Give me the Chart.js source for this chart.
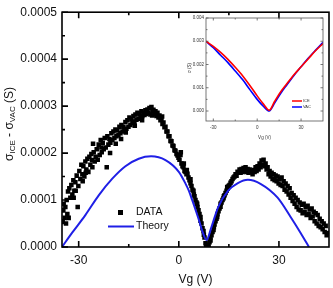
<!DOCTYPE html>
<html>
<head>
<meta charset="utf-8">
<script src="https://cdn.jsdelivr.net/npm/chart.js@4.4.1/dist/chart.umd.min.js"></script>
<style>
  html, body { margin: 0; padding: 0; background: #fff; }
  #wrap { position: relative; width: 333px; height: 288px; }
  #main { position: absolute; left: 0; top: 0; }
  #inset { position: absolute; left: 186px; top: 8px; }
</style>
</head>
<body>
<div id="wrap">
  <canvas id="main" width="333" height="288"></canvas>
  <canvas id="inset" width="142" height="134"></canvas>
</div>
<script>
"use strict";

// main plot: sigma_ICE - sigma_VAC, in units of 1e-4 S
var xTicks = [-30, 0, 30];
var xMinor = [-15, 15];
var yTicks = [0, 1, 2, 3, 4, 5];
var yMinor = [0.5, 1.5, 2.5, 3.5, 4.5];

var dataVg = [
  -34.8, -34.6, -34.5, -34.2, -34.0, -33.8, -33.6, -33.4, -33.2, -33.0,
  -32.8, -32.5, -32.2, -31.9, -31.6, -31.3, -31.0, -30.6, -30.3, -30.1,
  -29.8, -29.5, -29.2, -28.9, -28.6, -28.3, -28.0, -27.7, -27.4, -27.1,
  -26.8, -26.5, -26.2, -25.9, -25.7, -25.5, -25.2, -24.9, -24.6, -24.3,
  -24.0, -23.7, -23.4, -23.1, -22.8, -22.5, -22.2, -21.9, -21.6, -21.4,
  -21.1, -20.8, -20.5, -20.2, -19.9, -19.6, -19.3, -19.0, -18.7, -18.4,
  -18.1, -17.8, -17.5, -17.2, -16.9, -16.6, -16.3, -16.0, -15.7, -15.4,
  -15.1, -14.8, -14.5, -14.2, -13.9, -13.6, -13.3, -13.0, -12.7, -12.4,
  -12.1, -11.8, -11.5, -11.2, -10.9, -10.6, -10.3, -10.0, -9.7, -9.4,
  -9.1, -8.8, -8.5, -8.2, -7.9, -7.6, -7.3, -7.0, -6.7, -6.4,
  -6.1, -5.8, -5.5, -5.2, -4.9, -4.6, -4.3, -4.0, -3.7, -3.4,
  -3.1, -2.8, -2.5, -2.2, -1.9, -1.6, -1.3, -1.0, -0.7, -0.4,
  -0.1, 0.2, 0.5, 0.8, 1.1, 1.4, 1.7, 2.0, 2.3, 2.6,
  2.9, 3.2, 3.5, 3.8, 4.1, 4.4, 4.7, 5.0, 5.3, 5.6,
  5.9, 6.2, 6.5, 6.8, 7.1, 7.4, 7.7, 8.0, 8.3, 8.6,
  8.9, 9.2, 9.5, 9.8, 10.1, 10.4, 10.7, 11.0, 11.3, 11.6,
  11.9, 12.2, 12.5, 12.8, 13.1, 13.4, 13.7, 14.0, 14.3, 14.6,
  14.9, 15.2, 15.5, 15.8, 16.1, 16.4, 16.7, 17.0, 17.3, 17.6,
  17.9, 18.2, 18.5, 18.8, 19.1, 19.4, 19.7, 20.0, 20.3, 20.6,
  20.9, 21.2, 21.5, 21.8, 22.1, 22.4, 22.7, 23.0, 23.3, 23.6,
  23.9, 24.2, 24.5, 24.8, 25.1, 25.4, 25.7, 26.0, 26.3, 26.6,
  26.9, 27.2, 27.5, 27.8, 28.1, 28.4, 28.7, 29.0, 29.3, 29.6,
  29.9, 30.2, 30.5, 30.8, 31.1, 31.4, 31.7, 32.0, 32.3, 32.6,
  32.9, 33.2, 33.5, 33.8, 34.1, 34.4, 34.7, 35.0, 35.3, 35.6,
  35.9, 36.2, 36.5, 36.8, 37.1, 37.4, 37.7, 38.0, 38.3, 38.6,
  38.9, 39.2, 39.5, 39.8, 40.1, 40.4, 40.7, 41.0, 41.3, 41.6,
  41.9, 42.2, 42.5, 42.8, 43.1, 43.4, 43.7, 44.0, 44.3, 44.6,
  0.6, 1.5, 2.4, 3.5, 4.5, 5.5, 6.5, 7.5, 8.2, 8.8,
  9.5, 10.5, 11.5, 12.5, 13.5, 14.5, -20.6, -18.9, -17.3, -28.8,
  -31.5, -30.9, -27.9, -26.0, -23.2, -15.9, -13.2, -11.0, -8.0, -5.0
];
var dataSigma = [
  0.55, 0.78, 0.92, 0.62, 0.85, 0.50, 1.00, 0.70, 1.18, 0.62,
  1.25, 1.05, 1.32, 1.12, 1.42, 1.20, 1.38, 1.52, 0.85, 1.30,
  1.62, 1.45, 1.75, 1.55, 1.72, 1.50, 1.82, 1.65, 1.88, 1.60,
  1.92, 1.75, 1.98, 1.70, 2.20, 2.02, 1.82, 1.92, 2.08, 1.86,
  2.18, 1.96, 2.28, 2.02, 2.22, 2.08, 2.32, 2.12, 1.70, 2.36,
  2.18, 2.30, 2.22, 2.42, 2.28, 2.46, 2.32, 2.50, 2.36, 2.48,
  2.38, 2.56, 2.42, 2.60, 2.46, 2.56, 2.50, 2.66, 2.52, 2.70,
  2.56, 2.76, 2.60, 2.72, 2.64, 2.79, 2.67, 2.82, 2.71, 2.86,
  2.73, 2.84, 2.76, 2.89, 2.79, 2.86, 2.81, 2.91, 2.83, 2.93,
  2.86, 2.96, 2.82, 2.98, 2.89, 2.92, 2.82, 2.89, 2.79, 2.86,
  2.76, 2.80, 2.70, 2.72, 2.62, 2.65, 2.55, 2.56, 2.46, 2.46,
  2.36, 2.36, 2.26, 2.25, 2.16, 2.15, 2.06, 2.05, 1.98, 1.95,
  1.90, 1.86, 1.96, 1.78, 1.72, 1.70, 1.62, 1.60, 1.55, 1.56,
  1.48, 1.42, 1.44, 1.30, 1.22, 1.20, 1.08, 1.00, 0.95, 0.85,
  0.78, 0.70, 0.64, 0.50, 0.40, 0.34, 0.20, 0.08, 0.02, 0.02,
  0.05, 0.10, 0.14, 0.25, 0.32, 0.36, 0.48, 0.55, 0.60, 0.70,
  0.76, 0.82, 0.86, 0.95, 1.00, 1.04, 1.10, 1.15, 1.20, 1.24,
  1.30, 1.32, 1.37, 1.40, 1.45, 1.48, 1.50, 1.55, 1.52, 1.60,
  1.58, 1.65, 1.58, 1.66, 1.60, 1.68, 1.62, 1.70, 1.60, 1.66,
  1.58, 1.65, 1.60, 1.62, 1.55, 1.64, 1.60, 1.70, 1.62, 1.72,
  1.65, 1.78, 1.70, 1.84, 1.75, 1.86, 1.72, 1.78, 1.65, 1.70,
  1.55, 1.62, 1.50, 1.58, 1.45, 1.55, 1.42, 1.52, 1.40, 1.50,
  1.35, 1.45, 1.32, 1.48, 1.30, 1.40, 1.22, 1.35, 1.18, 1.30,
  1.12, 1.25, 1.05, 1.15, 0.98, 1.10, 0.92, 1.05, 0.85, 1.00,
  0.80, 0.95, 0.78, 0.90, 0.72, 0.92, 0.75, 0.85, 0.68, 0.88,
  0.70, 0.80, 0.62, 0.82, 0.65, 0.75, 0.55, 0.72, 0.50, 0.68,
  0.45, 0.60, 0.42, 0.55, 0.38, 0.50, 0.32, 0.45, 0.25, 0.30,
  2.02, 1.78, 1.64, 1.36, 1.12, 0.92, 0.56, 0.26, 0.00, 0.00,
  0.20, 0.42, 0.64, 0.92, 1.08, 1.28, 2.00, 2.20, 2.30, 1.40,
  1.05, 1.20, 1.58, 1.85, 2.12, 2.44, 2.58, 2.70, 2.80, 2.78
];

var theoryVg = [-35, -32, -28, -24, -20, -16, -12, -8.3, -4, 0, 2, 3, 4, 6, 7, 8.3,
  9.8, 11.8, 14.8, 17.7, 20.7, 24.6, 29.6, 33.5, 36.5, 39];
var theorySigma = [0, 0.3, 0.68, 1.1, 1.45, 1.72, 1.88, 1.93, 1.85, 1.6, 1.35, 1.2, 1.0, 0.58, 0.35, 0.15,
  0.43, 0.85, 1.2, 1.36, 1.43, 1.34, 1.05, 0.64, 0.3, 0];

// inset: sigma in units of 1e-3 S
var insetTicksX = [-30, 0, 30];
var insetMinorX = [-15, 15];
var insetTicksY = [0, 1, 2, 3, 4];
var insetMinorY = [0.5, 1.5, 2.5, 3.5];

var insetVg = [-35, -30, -25, -20, -15, -10, -5, 0, 4, 8.3, 12, 16, 20, 25, 30, 35, 40, 45];
var iceSigma = [3.0, 2.78, 2.52, 2.22, 1.88, 1.52, 1.1, 0.65, 0.32, 0.03, 0.42, 0.82, 1.15, 1.55, 1.9, 2.25, 2.6, 2.9];
var vacSigma = [3.0, 2.72, 2.4, 2.08, 1.72, 1.35, 0.92, 0.5, 0.22, 0.0, 0.35, 0.75, 1.1, 1.52, 1.9, 2.28, 2.62, 2.95];

var FONT = '"Liberation Sans", Arial, sans-serif';
var BLUE = '#1f1fe6';

function pts(xs, ys) {
    return xs.map(function (x, i) { return { x: x, y: ys[i] }; });
}

// inward tick marks + box, drawn with the chart's own scales
function boxTicks(opt) {
    return {
        id: 'boxTicks',
        afterDatasetsDraw: function (chart) {
            var ctx = chart.ctx, a = chart.chartArea;
            var xs = chart.scales.x, ys = chart.scales.y;
            ctx.save();
            ctx.strokeStyle = opt.color;
            ctx.lineWidth = opt.width;
            ctx.strokeRect(a.left, a.top, a.right - a.left, a.bottom - a.top);
            ctx.beginPath();
            function xt(list, len) {
                list.forEach(function (v) {
                    var p = xs.getPixelForValue(v);
                    ctx.moveTo(p, a.bottom); ctx.lineTo(p, a.bottom - len);
                    ctx.moveTo(p, a.top); ctx.lineTo(p, a.top + len);
                });
            }
            function yt(list, len) {
                list.forEach(function (v) {
                    var p = ys.getPixelForValue(v);
                    ctx.moveTo(a.left, p); ctx.lineTo(a.left + len, p);
                    if (opt.rightTicks) { ctx.moveTo(a.right, p); ctx.lineTo(a.right - len, p); }
                });
            }
            xt(opt.xMajor, opt.major); xt(opt.xMinor, opt.minor);
            yt(opt.yMajor, opt.major); yt(opt.yMinor, opt.minor);
            ctx.stroke();
            ctx.restore();
        }
    };
}

var mainExtras = {
    id: 'mainExtras',
    afterDraw: function (chart) {
        var ctx = chart.ctx;
        ctx.save();
        // legend
        ctx.fillStyle = '#000';
        ctx.fillRect(118, 210, 5, 5);
        ctx.strokeStyle = BLUE;
        ctx.lineWidth = 2;
        ctx.beginPath(); ctx.moveTo(108, 226.5); ctx.lineTo(134, 226.5); ctx.stroke();
        ctx.fillStyle = '#111';
        ctx.font = '10.5px ' + FONT;
        ctx.textBaseline = 'middle';
        ctx.fillText('DATA', 136, 212.5);
        ctx.fillText('Theory', 136, 226.5);

        // y title with subscripts
        var parts = [['σ', 12, 0], ['ICE', 8, 3], [' - σ', 12, 0], ['VAC', 8, 3], [' (S)', 12, 0]];
        ctx.translate(10, 124);
        ctx.rotate(-Math.PI / 2);
        var total = 0;
        parts.forEach(function (p) { ctx.font = p[1] + 'px ' + FONT; total += ctx.measureText(p[0]).width; });
        var x = -total / 2;
        parts.forEach(function (p) {
            ctx.font = p[1] + 'px ' + FONT;
            ctx.fillText(p[0], x, p[2]);
            x += ctx.measureText(p[0]).width;
        });
        ctx.restore();
    }
};

var insetExtras = {
    id: 'insetExtras',
    afterDraw: function (chart) {
        var ctx = chart.ctx;
        ctx.save();
        ctx.lineWidth = 1.5;
        ctx.strokeStyle = 'red';
        ctx.beginPath(); ctx.moveTo(106, 93); ctx.lineTo(116, 93); ctx.stroke();
        ctx.strokeStyle = 'blue';
        ctx.beginPath(); ctx.moveTo(106, 99); ctx.lineTo(116, 99); ctx.stroke();
        ctx.fillStyle = '#333';
        ctx.font = '4px ' + FONT;
        ctx.textBaseline = 'middle';
        ctx.fillText('ICE', 117, 93);
        ctx.fillText('VAC', 117, 99);
        // axis titles
        ctx.font = '4.5px ' + FONT;
        ctx.textAlign = 'center';
        ctx.fillText('Vg (V)', (chart.chartArea.left + chart.chartArea.right) / 2, 130);
        ctx.translate(4, 60);
        ctx.rotate(-Math.PI / 2);
        ctx.fillText('σ (S)', 0, 0);
        ctx.restore();
    }
};

new Chart(document.getElementById('main'), {
    type: 'scatter',
    data: {
        datasets: [{
            label: 'Theory',
            data: pts(theoryVg, theorySigma),
            showLine: true,
            borderColor: BLUE,
            borderWidth: 2,
            pointRadius: 0,
            cubicInterpolationMode: 'monotone',
            order: 0
        }, {
            label: 'DATA',
            data: pts(dataVg, dataSigma),
            pointStyle: 'rect',
            pointRadius: 3.2,
            backgroundColor: '#000',
            borderWidth: 0,
            order: 1
        }]
    },
    options: {
        responsive: false,
        animation: false,
        layout: { padding: { top: 6, right: 1, left: 0, bottom: 0 } },
        plugins: { legend: { display: false }, tooltip: { enabled: false } },
        scales: {
            x: {
                type: 'linear', min: -35, max: 45,
                afterBuildTicks: function (s) { s.ticks = xTicks.map(function (v) { return { value: v }; }); },
                afterFit: function (s) { s.height = 41; },
                grid: { display: false, drawTicks: false },
                border: { display: false },
                ticks: { font: { family: FONT, size: 12 }, color: '#111', padding: 6, maxRotation: 0 },
                title: { display: true, text: 'Vg (V)', font: { family: FONT, size: 12 }, color: '#111', padding: { top: 0, bottom: 1 } }
            },
            y: {
                min: 0, max: 5,
                afterBuildTicks: function (s) { s.ticks = yTicks.map(function (v) { return { value: v }; }); },
                afterFit: function (s) { s.width = 62; },
                grid: { display: false, drawTicks: false },
                border: { display: false },
                ticks: { font: { family: FONT, size: 12 }, color: '#111', padding: 5,
                    callback: function (v) { return '0.000' + v; } }
            }
        }
    },
    plugins: [boxTicks({ color: '#000', width: 1.6, major: 6, minor: 3,
        xMajor: xTicks, xMinor: xMinor, yMajor: yTicks, yMinor: yMinor, rightTicks: false }), mainExtras]
});

new Chart(document.getElementById('inset'), {
    type: 'scatter',
    data: {
        datasets: [{
            label: 'ICE', data: pts(insetVg, iceSigma), showLine: true,
            borderColor: 'red', borderWidth: 1.6, pointRadius: 0, tension: 0.3
        }, {
            label: 'VAC', data: pts(insetVg, vacSigma), showLine: true,
            borderColor: 'blue', borderWidth: 1.6, pointRadius: 0, tension: 0.3
        }]
    },
    options: {
        responsive: false,
        animation: false,
        layout: { padding: { top: 10, right: 5, left: 0, bottom: 0 } },
        plugins: { legend: { display: false }, tooltip: { enabled: false } },
        scales: {
            x: {
                type: 'linear', min: -35, max: 45,
                afterBuildTicks: function (s) { s.ticks = insetTicksX.map(function (v) { return { value: v }; }); },
                afterFit: function (s) { s.height = 21; },
                grid: { display: false, drawTicks: false },
                border: { display: false },
                ticks: { font: { family: FONT, size: 4.5 }, color: '#333', padding: 4, maxRotation: 0 }
            },
            y: {
                min: -0.43, max: 4.0,
                afterBuildTicks: function (s) { s.ticks = insetTicksY.map(function (v) { return { value: v }; }); },
                afterFit: function (s) { s.width = 20; },
                grid: { display: false, drawTicks: false },
                border: { display: false },
                ticks: { font: { family: FONT, size: 4.5 }, color: '#333', padding: 2,
                    callback: function (v) { return '0.00' + v; } }
            }
        }
    },
    plugins: [boxTicks({ color: '#555', width: 0.8, major: 2.5, minor: 1.5,
        xMajor: insetTicksX, xMinor: insetMinorX, yMajor: insetTicksY, yMinor: insetMinorY, rightTicks: true }), insetExtras]
});
</script>
</body>
</html>
